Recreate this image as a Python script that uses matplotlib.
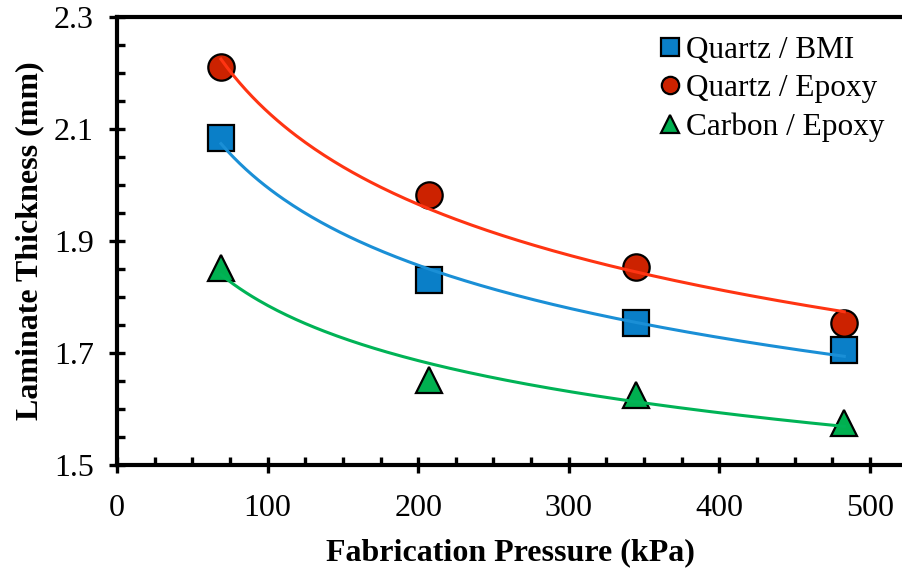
import numpy as np
import matplotlib
matplotlib.use('Agg')
import matplotlib.pyplot as plt
from matplotlib.ticker import MultipleLocator, FixedLocator

plt.rcParams['font.family'] = ['Liberation Serif', 'DejaVu Serif']

# fabrication pressure (kPa) and measured laminate thickness (mm)
pressure = [69, 207, 345, 483]
quartz_bmi = [2.084, 1.830, 1.754, 1.705]
quartz_epoxy = [2.211, 1.982, 1.854, 1.754]
carbon_epoxy = [1.852, 1.652, 1.625, 1.575]

y_ticks = [1.5, 1.7, 1.9, 2.1, 2.3]

series = [
    ('Quartz / BMI', quartz_bmi, 's', '#0A7FC8', '#1A8FD6'),
    ('Quartz / Epoxy', quartz_epoxy, 'o', '#CC2200', '#FF3412'),
    ('Carbon / Epoxy', carbon_epoxy, '^', '#00B050', '#00B356'),
]

fig = plt.figure(figsize=(9.03, 5.71), dpi=100)
ax = fig.add_axes([0.1296, 0.1856, 0.8704, 0.7846])

x = np.array(pressure, dtype=float)
xs = np.linspace(x.min(), x.max(), 200)
for label, vals, mk, fill, line in series:
    y = np.array(vals)
    # power-law trendline, fitted in log-log space
    b, a = np.polyfit(np.log(x), np.log(y), 1)
    ax.plot(x, y, linestyle='none', marker=mk, markersize=19,
            markerfacecolor=fill, markeredgecolor='black', markeredgewidth=1.6,
            zorder=2)
    ax.plot(xs, np.exp(a) * xs ** b, color=line, linewidth=2.2, zorder=3)
    ax.plot([], [], linestyle='none', marker=mk, markersize=12.5,
            markerfacecolor=fill, markeredgecolor='black', markeredgewidth=1.6,
            label=label)

ax.set_xlim(0, 522)
ax.set_ylim(1.5, 2.3)
ax.xaxis.set_major_locator(MultipleLocator(100))
ax.xaxis.set_minor_locator(MultipleLocator(25))
ax.yaxis.set_major_locator(FixedLocator(y_ticks))
ax.yaxis.set_minor_locator(MultipleLocator(0.05))
ax.yaxis.set_major_formatter(plt.FuncFormatter(lambda v, p: f'{v:.1f}'))

ax.spines['right'].set_visible(False)
for s in ['left', 'bottom', 'top']:
    ax.spines[s].set_linewidth(3)
ax.tick_params(which='major', direction='inout', length=11.5, width=2.4,
               labelsize=23, top=False, right=False)
ax.tick_params(axis='x', which='major', pad=15)
ax.tick_params(axis='y', which='major', pad=11)
ax.tick_params(which='minor', direction='in', length=5.8, width=2.4,
               top=False, right=False)

ax.set_xlabel('Fabrication Pressure (kPa)', fontsize=23, fontweight='bold',
              labelpad=11)
ax.set_ylabel('Laminate Thickness (mm)', fontsize=23, fontweight='bold',
              labelpad=7)

ax.legend(loc='upper right', frameon=False, fontsize=22.5, handlelength=0.7,
          handletextpad=0.15, labelspacing=0.3, borderaxespad=0.2,
          bbox_to_anchor=(1.0, 1.0))

fig.savefig('out.png', dpi=100)
